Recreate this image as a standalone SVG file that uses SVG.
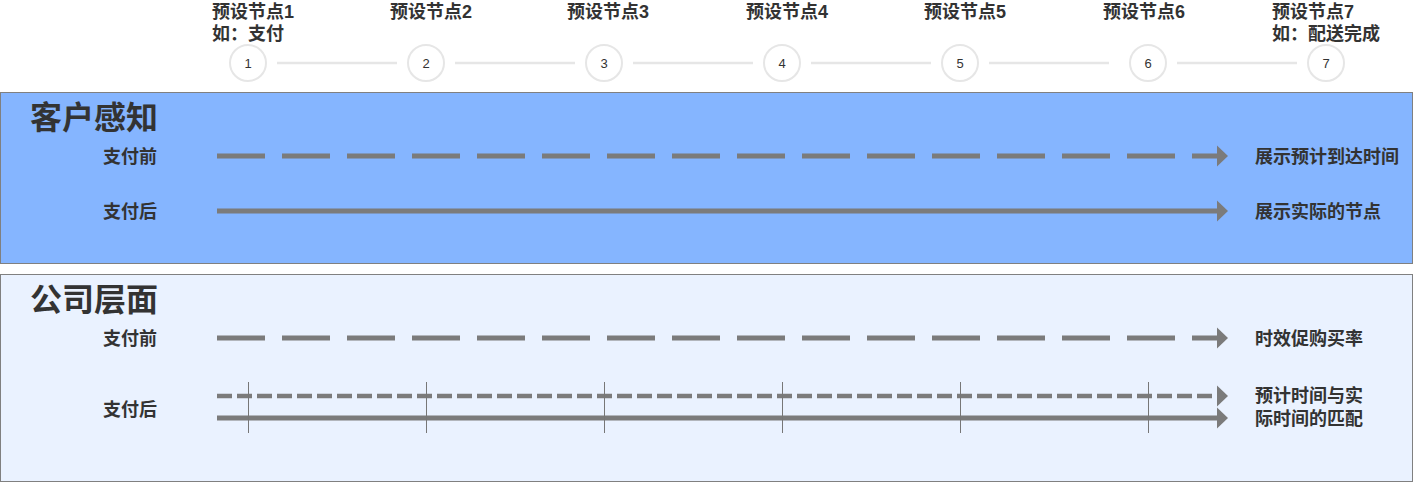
<svg xmlns="http://www.w3.org/2000/svg" width="1414" height="483" viewBox="0 0 1414 483">
<defs>
<style>
.hd{font-family:"Liberation Sans","Noto Sans CJK SC",sans-serif;font-weight:bold;font-size:18px;fill:#333333}
.big{font-family:"Liberation Sans","Noto Sans CJK SC",sans-serif;font-weight:bold;font-size:32px;fill:#333333}
.num{font-family:"Liberation Sans","Noto Sans CJK SC",sans-serif;font-size:13px;fill:#333333;text-anchor:middle}
.circ{fill:#ffffff;stroke:#e6e6e6;stroke-width:2}
.tl{stroke:#e6e6e6;stroke-width:2.5}
.ln{stroke:#7b7b7b;stroke-width:5;fill:none}
.dash{stroke-dasharray:48 17}
.sdash{stroke-dasharray:15 5;stroke-width:4.5}
.tick{stroke:#777777;stroke-width:1}
.ah{fill:#7b7b7b}
</style>
</defs>
<rect width="1414" height="483" fill="#ffffff"/>

<g id="panel-customer">
<rect x="0.5" y="92.5" width="1412" height="171" fill="#85b5ff" stroke="#808080" stroke-width="1"/>
<text class="big" x="30" y="129">客户感知</text>
<text class="hd" x="103" y="163">支付前</text>
<text class="hd" x="103" y="218">支付后</text>
<text class="hd" x="1255" y="163">展示预计到达时间</text>
<text class="hd" x="1255" y="218">展示实际的节点</text>
</g>

<g id="panel-company">
<rect x="0.5" y="274.5" width="1412" height="207" fill="#eaf2ff" stroke="#808080" stroke-width="1"/>
<text class="big" x="30" y="311">公司层面</text>
<text class="hd" x="103" y="345">支付前</text>
<text class="hd" x="103" y="416">支付后</text>
<text class="hd" x="1255" y="345">时效促购买率</text>
<text class="hd" x="1255" y="402">预计时间与实</text>
<text class="hd" x="1255" y="425">际时间的匹配</text>
</g>

<g id="timeline">
<line class="tl" x1="277" y1="63" x2="397" y2="63"/>
<line class="tl" x1="455" y1="63" x2="575" y2="63"/>
<line class="tl" x1="633" y1="63" x2="753" y2="63"/>
<line class="tl" x1="811" y1="63" x2="931" y2="63"/>
<line class="tl" x1="989" y1="63" x2="1109" y2="63"/>
<line class="tl" x1="1177" y1="63" x2="1297" y2="63"/>
</g>

<g id="node1"><text class="hd" x="212" y="18">预设节点1</text><text class="hd" x="212" y="40">如：支付</text><circle class="circ" cx="248" cy="63" r="18"/><text class="num" x="248" y="68">1</text></g>
<g id="node2"><text class="hd" x="390" y="18">预设节点2</text><circle class="circ" cx="426" cy="63" r="18"/><text class="num" x="426" y="68">2</text></g>
<g id="node3"><text class="hd" x="567" y="18">预设节点3</text><circle class="circ" cx="604" cy="63" r="18"/><text class="num" x="604" y="68">3</text></g>
<g id="node4"><text class="hd" x="746" y="18">预设节点4</text><circle class="circ" cx="782" cy="63" r="18"/><text class="num" x="782" y="68">4</text></g>
<g id="node5"><text class="hd" x="924" y="18">预设节点5</text><circle class="circ" cx="960" cy="63" r="18"/><text class="num" x="960" y="68">5</text></g>
<g id="node6"><text class="hd" x="1103" y="18">预设节点6</text><circle class="circ" cx="1148" cy="63" r="18"/><text class="num" x="1148" y="68">6</text></g>
<g id="node7"><text class="hd" x="1272" y="18">预设节点7</text><text class="hd" x="1272" y="40">如：配送完成</text><circle class="circ" cx="1326" cy="63" r="18"/><text class="num" x="1326" y="68">7</text></g>

<g id="connectors">
<line class="ln dash" x1="217" y1="156" x2="1217" y2="156"/>
<path class="ah" d="M1217,145.5 L1228,156 L1217,166.5 Z"/>
<line class="ln" x1="217" y1="211" x2="1217" y2="211"/>
<path class="ah" d="M1217,200.5 L1228,211 L1217,221.5 Z"/>
<line class="ln dash" x1="217" y1="338" x2="1217" y2="338"/>
<path class="ah" d="M1217,327.5 L1228,338 L1217,348.5 Z"/>
<line class="ln sdash" x1="217" y1="396" x2="1217" y2="396"/>
<path class="ah" d="M1217,385.5 L1228,396 L1217,406.5 Z"/>
<line class="ln" x1="217" y1="418" x2="1217" y2="418"/>
<path class="ah" d="M1217,407.5 L1228,418 L1217,428.5 Z"/>
<line class="tick" x1="248.5" y1="382" x2="248.5" y2="433"/>
<line class="tick" x1="426.5" y1="382" x2="426.5" y2="433"/>
<line class="tick" x1="604.5" y1="382" x2="604.5" y2="433"/>
<line class="tick" x1="782.5" y1="382" x2="782.5" y2="433"/>
<line class="tick" x1="960.5" y1="382" x2="960.5" y2="433"/>
<line class="tick" x1="1148.5" y1="382" x2="1148.5" y2="433"/>
</g>
</svg>
